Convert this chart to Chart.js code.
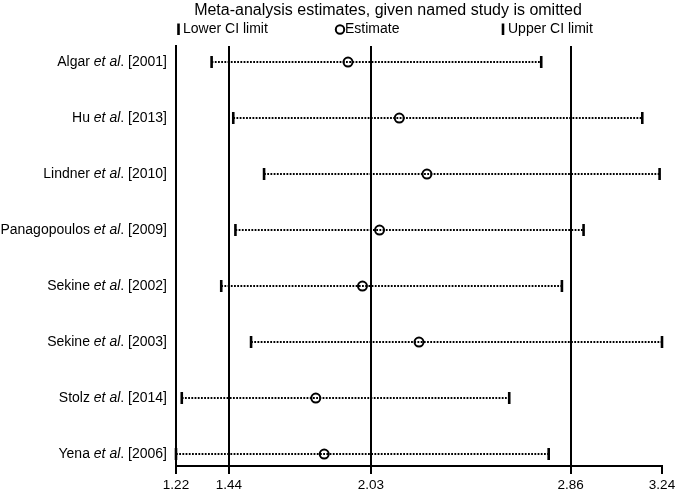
<!DOCTYPE html>
<html>
<head>
<meta charset="utf-8">
<script src="https://cdn.jsdelivr.net/npm/chart.js@4"></script>
<style>
  body { margin: 0; background: #fff; }
  canvas { display: block; }
</style>
</head>
<body>
<canvas id="chart" width="680" height="492"></canvas>
<script>
// ---- data ----
const authors = ["Algar", "Hu", "Lindner", "Panagopoulos", "Sekine", "Sekine", "Stolz", "Yena"];
const years = [2001, 2013, 2010, 2009, 2002, 2003, 2014, 2006];
const lowerCI = [1.368, 1.458, 1.586, 1.467, 1.408, 1.532, 1.244, 1.22];
const estimate = [1.935, 2.148, 2.263, 2.066, 1.995, 2.23, 1.801, 1.836];
const upperCI = [2.738, 3.158, 3.23, 2.914, 2.824, 3.24, 2.605, 2.769];
const xTicks = [1.22, 1.44, 2.03, 2.86, 3.24];
const refLines = [1.44, 2.03, 2.86]; // pooled CI lower, estimate, upper

const titleText = "Meta-analysis estimates, given named study is omitted";
const FONT = '"Liberation Sans", Arial, Helvetica, sans-serif';

const pts = arr => arr.map((v, i) => ({ x: v, y: i }));

const ciLines = authors.map((a, i) => ({
  type: "line",
  data: [{ x: lowerCI[i], y: i }, { x: upperCI[i], y: i }],
  borderColor: "#000", borderWidth: 1.8, borderDash: [1.8, 1.4],
  pointRadius: 0, clip: false, order: 3,
}));

const capStyle = {
  type: "scatter", pointStyle: "line", rotation: 90, pointRadius: 6,
  borderColor: "#000", pointBorderWidth: 2.6, clip: false, order: 2,
};

// ---- title, legend and study labels (mixed italic) ----
const decorations = {
  id: "decorations",
  afterDraw(chart) {
    const ctx = chart.ctx;
    const y = chart.scales.y;
    ctx.save();
    ctx.fillStyle = "#000";
    ctx.strokeStyle = "#000";
    ctx.textBaseline = "middle";

    ctx.font = `16px ${FONT}`;
    ctx.textAlign = "center";
    ctx.fillText(titleText, 388, 10.5);

    ctx.textAlign = "left";
    ctx.font = `14px ${FONT}`;
    ctx.lineWidth = 2.6;
    ctx.beginPath(); ctx.moveTo(178.5, 23.5); ctx.lineTo(178.5, 35); ctx.stroke();
    ctx.fillText("Lower CI limit", 183, 29.5);
    ctx.lineWidth = 2;
    ctx.beginPath(); ctx.arc(340, 29.5, 4.2, 0, Math.PI * 2); ctx.stroke();
    ctx.fillText("Estimate", 345, 29.5);
    ctx.lineWidth = 2.6;
    ctx.beginPath(); ctx.moveTo(503, 23.5); ctx.lineTo(503, 35); ctx.stroke();
    ctx.fillText("Upper CI limit", 508, 29.5);

    authors.forEach((a, i) => {
      const parts = [
        [a + " ", `14px ${FONT}`],
        ["et al", `italic 14px ${FONT}`],
        [`. [${years[i]}]`, `14px ${FONT}`],
      ];
      let w = 0;
      parts.forEach(([t, f]) => { ctx.font = f; w += ctx.measureText(t).width; });
      let x = 167 - w;
      const py = y.getPixelForValue(i);
      parts.forEach(([t, f]) => { ctx.font = f; ctx.fillText(t, x, py); x += ctx.measureText(t).width; });
    });
    ctx.restore();
  },
};

new Chart(document.getElementById("chart"), {
  data: {
    datasets: [
      ...ciLines,
      { ...capStyle, data: pts(lowerCI) },
      { ...capStyle, data: pts(upperCI) },
      {
        type: "scatter", data: pts(estimate), pointStyle: "circle", pointRadius: 4.5,
        pointBorderWidth: 2, borderColor: "#000", backgroundColor: "rgba(0,0,0,0)", clip: false, order: 1,
      },
    ],
  },
  options: {
    responsive: false,
    animation: false,
    layout: { padding: { top: 46, right: 18, left: 0, bottom: 0 } },
    plugins: { legend: { display: false }, tooltip: { enabled: false }, title: { display: false } },
    scales: {
      x: {
        type: "linear", min: 1.22, max: 3.24,
        afterBuildTicks: s => { s.ticks = xTicks.map(v => ({ value: v })); },
        afterFit: s => { s.height = 26; },
        ticks: {
          autoSkip: false, maxRotation: 0, padding: 3, color: "#000",
          font: { family: FONT, size: 13.5 },
          callback: v => xTicks.find(t => Math.abs(t - v) < 1e-9).toFixed(2),
        },
        grid: {
          color: c => (c.tick && refLines.includes(c.tick.value)) ? "#000" : "rgba(0,0,0,0)",
          lineWidth: 2, tickColor: "#000", tickLength: 8, tickWidth: 2,
        },
        border: { display: true, color: "#000", width: 2 },
      },
      y: {
        type: "linear", min: -0.286, max: 7.214, reverse: true,
        afterFit: s => { s.width = 176; },
        ticks: { display: false },
        grid: { display: false, drawTicks: false },
        border: { display: true, color: "#000", width: 2 },
      },
    },
  },
  plugins: [decorations],
});
</script>
</body>
</html>
